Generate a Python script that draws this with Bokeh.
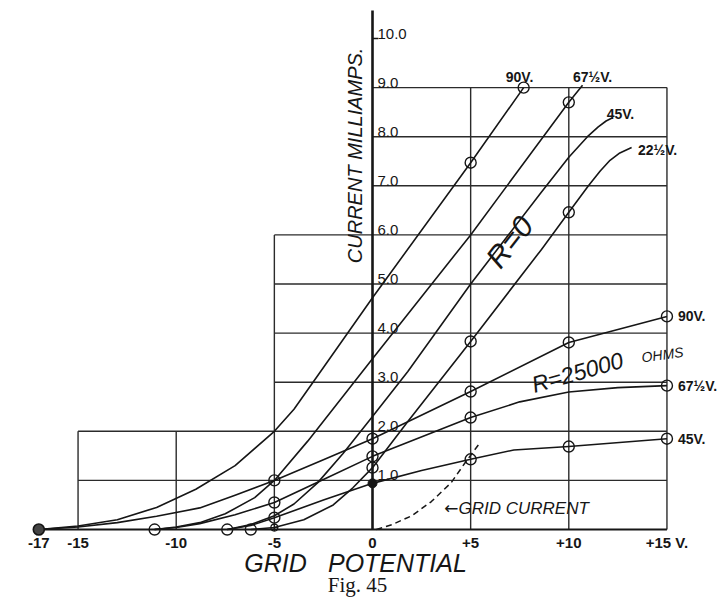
from bokeh.plotting import figure
from bokeh.models import Range1d
from bokeh.embed import file_html
from bokeh.resources import INLINE
from bokeh.core.properties import value
import math

# ---------------- data ----------------
x_ticks = [-17, -15, -10, -5, 0, 5, 10, 15]
x_tick_labels = ["-17", "-15", "-10", "-5", "0", "+5", "+10", "+15 V."]
y_ticks = [1, 2, 3, 4, 5, 6, 7, 8, 9, 10]
y_tick_labels = ["1.0", "2.0", "3.0", "4.0", "5.0", "6.0", "7.0", "8.0", "9.0", "10.0"]

# irregular background grid: horizontal levels and their left ends, verticals and their tops
h_levels = [1, 2, 3, 4, 5, 6, 7, 8, 9]
h_left = [-15, -15, -5, -5, -5, -5, 0, 0, 0]
grid_right = 15
v_positions = [-15, -10, -5, 5, 10, 15]
v_tops = [2, 2, 6, 9, 9, 9]
axis_top = 10.57
axis_left = -17

# R = 0 curves (plate volts)
r0_90_x = [-17, -15, -13, -11, -9, -7, -5, -4, -2.5, 0, 5, 7.7]
r0_90_y = [0, 0.07, 0.2, 0.45, 0.82, 1.3, 2.0, 2.45, 3.3, 4.72, 7.47, 9.0]
r0_90_mx = [5, 7.7]
r0_90_my = [7.47, 9.0]

r0_675_x = [-11.1, -10, -8.8, -7.5, -6, -5, -3.3, 0, 5, 10, 10.7]
r0_675_y = [0, 0.05, 0.14, 0.32, 0.65, 1.0, 1.8, 3.48, 6.0, 8.7, 9.05]
r0_675_mx = [-11.1, -5, 10]
r0_675_my = [0, 1.0, 8.7]

r0_45_x = [-7.4, -6.2, -5, -4, -2.8, -1.5, 0, 1.8, 5, 8.6, 10, 10.95, 11.5, 11.9, 12.2]
r0_45_y = [0, 0.1, 0.28, 0.52, 0.95, 1.55, 2.3, 3.22, 5.0, 6.87, 7.58, 8.0, 8.2, 8.32, 8.38]
r0_45_mx = [-7.4]
r0_45_my = [0]

r0_225_x = [-6.2, -5, -3.5, -2, -1, 0, 1.8, 5, 8.6, 10, 11.0, 11.6, 12.1, 12.6, 13.2]
r0_225_y = [0, 0.04, 0.2, 0.5, 0.85, 1.26, 2.2, 3.83, 5.7, 6.46, 7.0, 7.3, 7.52, 7.67, 7.78]
r0_225_mx = [-6.2, 0, 5, 10]
r0_225_my = [0, 1.26, 3.83, 6.46]
r0_225_small_mx = [-5]
r0_225_small_my = [0.04]

# R = 25000 ohms curves
r25_90_x = [-17, -15, -13, -11, -8.8, -7, -5, -2.5, 0, 5, 10, 15]
r25_90_y = [0, 0.05, 0.14, 0.27, 0.44, 0.7, 1.0, 1.42, 1.85, 2.81, 3.81, 4.34]
r25_90_mx = [0, 5, 10, 15]
r25_90_my = [1.85, 2.81, 3.81, 4.34]
r25_90_fx = [-17]
r25_90_fy = [0]

r25_675_x = [-11.1, -10, -8.8, -7, -5, -2.5, 0, 5, 7.5, 10, 12.5, 15]
r25_675_y = [0, 0.04, 0.12, 0.3, 0.55, 1.02, 1.49, 2.28, 2.6, 2.8, 2.89, 2.93]
r25_675_mx = [-5, 0, 5, 15]
r25_675_my = [0.55, 1.49, 2.28, 2.93]

r25_45_x = [-7.4, -6.2, -5, -2.5, 0, 2.5, 5, 7.2, 10, 15]
r25_45_y = [0, 0.08, 0.24, 0.6, 0.94, 1.2, 1.43, 1.62, 1.69, 1.85]
r25_45_mx = [-5, 5, 10, 15]
r25_45_my = [0.24, 1.43, 1.69, 1.85]
r25_45_fx = [0]
r25_45_fy = [0.94]

# grid current (dashed)
grid_cur_x = [0.2, 1, 2, 3, 4, 4.7, 5.5]
grid_cur_y = [0, 0.1, 0.28, 0.57, 0.95, 1.35, 1.78]

top_labels = ["90V.", "67½V.", "45V.", "22½V."]
right_labels = ["90V.", "67½V.", "45V."]

# ---------------- figure ----------------
INK = "#161616"
FONT = value("Liberation Sans")

p = figure(width=720, height=598,
           x_range=Range1d(-18.951, 17.728), y_range=Range1d(-1.405, 10.774),
           output_backend="svg", toolbar_location=None,
           x_axis_location=None, y_axis_location=None,
           min_border=0, outline_line_color=None,
           background_fill_color="white", border_fill_color="white")
p.grid.visible = False

# grid
p.segment(x0=h_left, y0=h_levels, x1=[grid_right] * len(h_levels), y1=h_levels,
          line_color="#2b2b2b", line_width=1.4)
p.segment(x0=v_positions, y0=[0] * len(v_positions), x1=v_positions, y1=v_tops,
          line_color="#2b2b2b", line_width=1.4)
# axes
p.segment(x0=[axis_left], y0=[0], x1=[grid_right], y1=[0], line_color=INK, line_width=2.0)
p.segment(x0=[0], y0=[0], x1=[0], y1=[axis_top], line_color=INK, line_width=2.6)
p.segment(x0=[0], y0=[y_ticks[-1]], x1=[0.3], y1=[y_ticks[-1]], line_color=INK, line_width=1.5)

# curves
curves = [(r0_90_x, r0_90_y), (r0_675_x, r0_675_y), (r0_45_x, r0_45_y), (r0_225_x, r0_225_y),
          (r25_90_x, r25_90_y), (r25_675_x, r25_675_y), (r25_45_x, r25_45_y)]
for cx, cy in curves:
    p.line(cx, cy, line_color=INK, line_width=1.6, line_join="round")

p.line(grid_cur_x, grid_cur_y, line_color=INK, line_width=1.5, line_dash="6 4")

# markers
open_sets = [(r0_90_mx, r0_90_my), (r0_675_mx, r0_675_my), (r0_45_mx, r0_45_my),
             (r0_225_mx, r0_225_my), (r25_90_mx, r25_90_my), (r25_675_mx, r25_675_my),
             (r25_45_mx, r25_45_my)]
for mx, my in open_sets:
    p.scatter(mx, my, marker="circle", size=11, fill_color=None, line_color=INK, line_width=1.4)
p.scatter(r0_225_small_mx, r0_225_small_my, marker="circle_cross", size=7,
          fill_color=None, line_color=INK, line_width=1.2)
p.scatter(r25_45_fx, r25_45_fy, marker="circle", size=9, fill_color=INK, line_color=INK)
p.scatter(r25_90_fx, r25_90_fy, marker="circle", size=11, fill_color="#444444",
          line_color=INK, line_width=1.6)

# tick labels
p.text(x=[0] * len(y_ticks), y=y_ticks, text=y_tick_labels, x_offset=5,
       text_align="left", text_baseline="bottom", text_font=FONT,
       text_font_size="15px", text_color=INK)
p.text(x=x_ticks, y=[-0.265] * len(x_ticks), text=x_tick_labels,
       text_align="center", text_baseline="middle", text_font=FONT,
       text_font_size="15px", text_font_style="bold", text_color=INK)

# axis titles
p.text(x=[-0.87], y=[7.62], text=["CURRENT MILLIAMPS."], angle=math.pi / 2,
       text_align="center", text_baseline="middle", text_font=FONT,
       text_font_size="20px", text_font_style="italic", text_color=INK)
p.text(x=[-4.94, 1.27], y=[-0.68, -0.68], text=["GRID", "POTENTIAL"],
       text_align="center", text_baseline="middle", text_font=FONT,
       text_font_size="25px", text_font_style="italic", text_color=INK)
p.text(x=[-0.76], y=[-1.12], text=["Fig. 45"],
       text_align="center", text_baseline="middle", text_font=value("Liberation Serif"),
       text_font_size="21px", text_color=INK)

# curve labels
p.text(x=[7.49, 11.21, 12.63, 14.52], y=[9.21, 9.21, 8.47, 7.72], text=top_labels,
       text_align="center", text_baseline="middle", text_font=FONT,
       text_font_size="14px", text_font_style="bold", text_color=INK)
p.text(x=[r25_90_x[-1], r25_675_x[-1], r25_45_x[-1]],
       y=[r25_90_y[-1], r25_675_y[-1], r25_45_y[-1]], text=right_labels, x_offset=11,
       text_align="left", text_baseline="middle", text_font=FONT,
       text_font_size="14px", text_font_style="bold", text_color=INK)

p.text(x=[6.98], y=[5.86], text=["R=0"], angle=math.radians(52),
       text_align="center", text_baseline="middle", text_font=FONT,
       text_font_size="30px", text_font_style="italic", text_color=INK)
p.text(x=[10.44], y=[3.20], text=["R=25000"], angle=math.radians(16),
       text_align="center", text_baseline="middle", text_font=FONT,
       text_font_size="23px", text_font_style="italic", text_color=INK)
p.text(x=[14.77], y=[3.56], text=["OHMS"], angle=math.radians(8),
       text_align="center", text_baseline="middle", text_font=FONT,
       text_font_size="14px", text_font_style="italic", text_color=INK)
p.text(x=[4.38], y=[0.43], text=["←"],
       text_align="right", text_baseline="middle", text_font=value("DejaVu Sans"),
       text_font_size="17px", text_color=INK)
p.text(x=[4.38], y=[0.43], text=["GRID CURRENT"],
       text_align="left", text_baseline="middle", text_font=FONT,
       text_font_size="17px", text_font_style="italic", text_color=INK)

open("out.html", "w").write(file_html(p, INLINE))
